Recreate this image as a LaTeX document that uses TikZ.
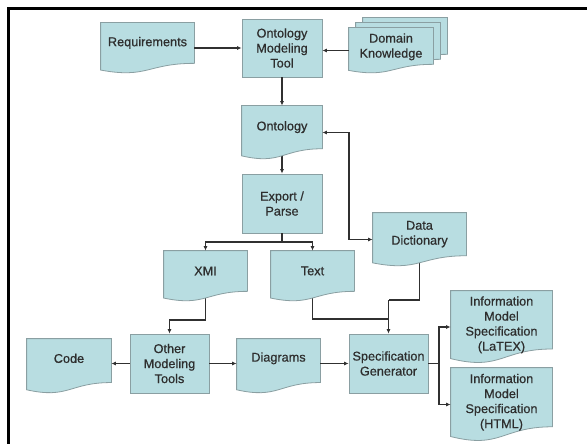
\documentclass[tikz,border=0pt]{standalone}
\usepackage{fontspec}
\setmainfont{Liberation Sans}
\newfontfamily\boxfont{Liberation Sans}[FakeBold=0.7]
\usetikzlibrary{arrows.meta,backgrounds}
\definecolor{boxfill}{HTML}{B8DDE1}
\definecolor{boxline}{HTML}{8A9FA2}
\definecolor{txtcol}{HTML}{2E2E2E}
\definecolor{linecol}{HTML}{303030}
\def\docshift{0.1}
\makeatletter
\pgfdeclareshape{docu}{%
  \inheritsavedanchors[from=rectangle]
  \inheritanchorborder[from=rectangle]
  \inheritanchor[from=rectangle]{center}
  \inheritanchor[from=rectangle]{north}
  \inheritanchor[from=rectangle]{south}
  \inheritanchor[from=rectangle]{east}
  \inheritanchor[from=rectangle]{west}
  \inheritanchor[from=rectangle]{north east}
  \inheritanchor[from=rectangle]{north west}
  \inheritanchor[from=rectangle]{south east}
  \inheritanchor[from=rectangle]{south west}
  \anchor{text}{%
    \northeast\pgf@ya=\pgf@y
    \southwest\advance\pgf@ya by -\pgf@y
    \pgf@ya=\docshift\pgf@ya
    \pgf@x=0pt
    \pgf@y=\pgf@ya}
  \backgroundpath{%
    \southwest\pgf@xa=\pgf@x\pgf@ya=\pgf@y
    \northeast\pgf@xb=\pgf@x\pgf@yb=\pgf@y
    \pgf@yc=\pgf@yb\advance\pgf@yc by -\pgf@ya
    \edef\docxl{\the\pgf@xa}\edef\docxr{\the\pgf@xb}%
    \edef\docyt{\the\pgf@yb}%
    \edef\docxm{\the\dimexpr(\pgf@xa+\pgf@xb)/2\relax}%
    \edef\docyr{\the\dimexpr\pgf@yb-\pgf@yc*802/1000\relax}%
    \edef\docyl{\the\dimexpr\pgf@yb-\pgf@yc*934/1000\relax}%
    \edef\docyc{\the\dimexpr\pgf@yb-\pgf@yc*1107/1000\relax}%
    \pgfpathmoveto{\pgfqpoint{\docxl}{\docyt}}%
    \pgfpathlineto{\pgfqpoint{\docxr}{\docyt}}%
    \pgfpathlineto{\pgfqpoint{\docxr}{\docyr}}%
    \pgfpathcurveto{\pgfqpoint{\docxm}{\docyr}}{\pgfqpoint{\docxm}{\docyc}}{\pgfqpoint{\docxl}{\docyl}}%
    \pgfpathclose
  }%
}
\makeatother
\tikzset{
  docshift/.code={\def\docshift{#1}},
  basebox/.style={fill=boxfill, draw=boxline, line width=0.8pt, inner sep=0pt,
    text=txtcol, align=center, font=\boxfont\fontsize{12.7}{15}\selectfont},
  procbox/.style={basebox, shape=rectangle},
  docbox/.style={basebox, shape=docu},
  conn/.style={draw=linecol, line width=1.3pt},
  arr/.style={conn, -{Latex[length=4.5pt,width=4pt]}},
  dblarr/.style={conn, {Latex[length=4.5pt,width=4pt]}-{Latex[length=4.5pt,width=4pt]}},
}
\begin{document}
\begin{tikzpicture}[x=1pt,y=-1pt]
\useasboundingbox (0,0) rectangle (587,444);
\draw[line width=2.5pt] (8.5,444) -- (8.5,8.5) -- (587,8.5);

% nodes
\node[docbox, minimum width=93pt, minimum height=50pt] (req) at (147.5,48) {Requirements};
\node[procbox, minimum width=80pt, minimum height=58pt] (omt) at (282,48) {Ontology\\Modeling\\Tool};
\node[docbox, minimum width=84pt, minimum height=45pt] (dk3) at (405,40.5) {};
\node[docbox, minimum width=84pt, minimum height=45pt] (dk2) at (398,45.5) {};
\node[docbox, docshift=0.08, minimum width=84pt, minimum height=45pt] (dk) at (391,50.5) {Domain\\Knowledge};
\node[docbox, minimum width=80pt, minimum height=53pt] (ont) at (282,132.5) {Ontology};
\node[procbox, minimum width=80pt, minimum height=59pt] (exp) at (282,203.5) {Export /\\Parse};
\node[docbox, minimum width=83pt, minimum height=50pt] (xmi) at (205.5,276) {XMI};
\node[docbox, minimum width=83pt, minimum height=50pt] (txt) at (312.5,276) {Text};
\node[docbox, minimum width=93pt, minimum height=53pt] (dd) at (419.5,239.5) {Data\\Dictionary};
\node[procbox, minimum width=79pt, minimum height=59pt] (oth) at (169.5,363.5) {Other\\Modeling\\Tools};
\node[docbox, docshift=0.14, minimum width=84pt, minimum height=54pt] (code) at (69,366) {Code};
\node[docbox, docshift=0.14, minimum width=83pt, minimum height=54pt] (diag) at (278.5,366) {Diagrams};
\node[procbox, minimum width=79pt, minimum height=59pt] (sg) at (388.5,363.5) {Specification\\Generator};
\node[docbox, docshift=0.03, minimum width=101pt, minimum height=72pt] (ltx) at (501.5,327) {Information\\Model\\Specification\\(LaTEX)};
\node[docbox, docshift=0.03, minimum width=101pt, minimum height=73pt] (htm) at (501.5,404.5) {Information\\Model\\Specification\\(HTML)};

% junction points
\coordinate (e1) at (282,242);
\coordinate (o1) at (349,186);
\coordinate (x1) at (169.5,320);
\coordinate (m1) at (388.5,319);
\coordinate (m2) at (388.5,300);
\coordinate (s1) at (439,363.5);

% connectors
\draw[arr] (req.east) -- (omt.west);
\draw[arr] (dk.west) -- (dk.west -| omt.east);
\draw[arr] (omt.south) -- (ont.north);
\draw[dblarr] (ont.east) -| (o1) |- (dd.west);
\draw[conn] (exp.south) -- (e1);
\draw[arr] (e1) -| (xmi.north);
\draw[arr] (e1) -| (txt.north);
\draw[arr] (oth.west) -- (oth.west -| code.east);
\draw[arr] (oth.east) -- (oth.east -| diag.west);
\draw[arr] (sg.west -| diag.east) -- (sg.west);
\draw[conn] (sg.east) -- (s1);
\draw[arr] (s1) |- (ltx.west);
\draw[arr] (s1) |- (htm.west);
\begin{scope}[on background layer]
\fill[white] (0,0) rectangle (587,444);
\draw[arr] (ont.center) -- (exp.north);
\draw[arr] (xmi.center) |- (x1) -- (oth.north);
\draw[conn] (txt.center) |- (m1);
\draw[conn] (dd.center) |- (m2);
\draw[arr] (m2) -- (sg.north);
\end{scope}
\end{tikzpicture}
\end{document}
